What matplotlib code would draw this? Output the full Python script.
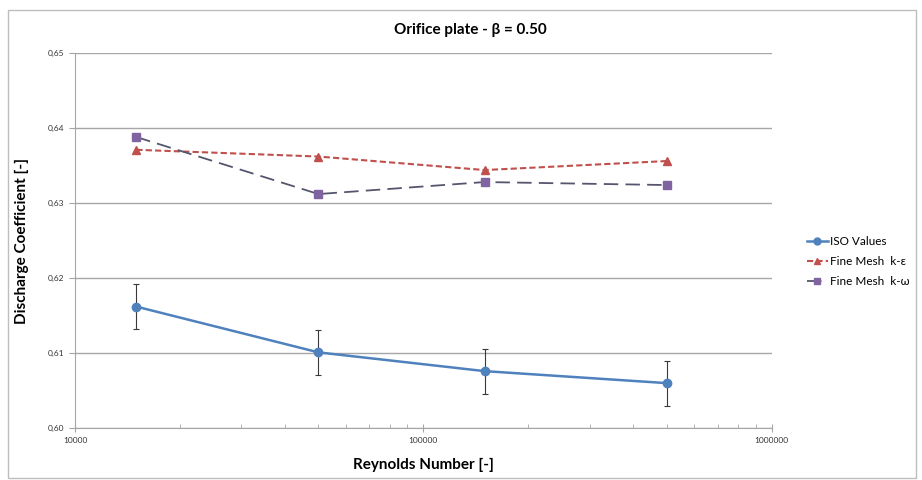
import matplotlib
matplotlib.use("Agg")
import matplotlib.pyplot as plt
from matplotlib.patches import Rectangle
from matplotlib.lines import Line2D
from matplotlib.ticker import FixedLocator, LogLocator, NullFormatter

plt.rcParams['font.family'] = ['Lato', 'DejaVu Sans']

# data
reynolds = [15000, 50000, 150000, 500000]
iso_values = [0.6162, 0.6101, 0.6076, 0.6060]
iso_err = [0.003, 0.003, 0.003, 0.003]
fine_k_eps = [0.6371, 0.6362, 0.6344, 0.6356]
fine_k_omega = [0.6388, 0.6312, 0.6328, 0.6324]
y_ticks = [0.60, 0.61, 0.62, 0.63, 0.64, 0.65]
y_tick_labels = ['0,60', '0,61', '0,62', '0,63', '0,64', '0,65']

fig = plt.figure(figsize=(9.22, 4.8), dpi=100)
ax = fig.add_axes([0.0813, 0.108, 0.7557, 0.7816])

# outer chart frame
fig.patches.append(Rectangle((0.009, 0.004), 0.984, 0.975, transform=fig.transFigure,
                             fill=False, edgecolor='#bdbdbd', linewidth=1.0))

ax.errorbar(reynolds, iso_values, yerr=iso_err, color='#4F81BD', ecolor='#3a3a3a',
            elinewidth=0.8, capsize=2, capthick=0.8, marker='o', markersize=6,
            linewidth=1.8, zorder=3)
ax.plot(reynolds, fine_k_eps, color='#C0504D', linestyle=(0, (3, 1.5)), linewidth=1.5,
        marker='^', markersize=6, zorder=3)
ax.plot(reynolds, fine_k_omega, color='#55566e', linestyle=(0, (8, 4)), linewidth=1.3,
        marker='s', markersize=6, markerfacecolor='#8064A2', markeredgecolor='#8064A2',
        zorder=3)

ax.set_xscale('log')
ax.set_xlim(10000, 1000000)
ax.set_ylim(0.60, 0.65)
ax.set_yticks(y_ticks)
ax.set_yticklabels(y_tick_labels)
ax.xaxis.set_major_locator(FixedLocator([10000, 100000, 1000000]))
ax.set_xticklabels(['10000', '100000', '1000000'])
ax.xaxis.set_minor_locator(LogLocator(base=10, subs=range(2, 10)))
ax.xaxis.set_minor_formatter(NullFormatter())

ax.grid(axis='y', color='#a6a6a6', linewidth=1.0)
ax.set_axisbelow(True)
for side in ['top', 'right']:
    ax.spines[side].set_visible(False)
for side in ['left', 'bottom']:
    ax.spines[side].set_color('#a6a6a6')
ax.tick_params(axis='both', which='major', labelsize=6, color='#a6a6a6', length=4,
               labelcolor='#333333')
ax.tick_params(axis='x', which='minor', color='#a6a6a6', length=3, direction='in')
ax.tick_params(axis='x', which='major', direction='inout', length=6)

ax.set_xlabel('Reynolds Number [-]', fontsize=11, fontweight='bold', labelpad=10)
ax.set_ylabel('Discharge Coefficient [-]', fontsize=11, fontweight='bold', labelpad=14)
fig.text(0.51, 0.937, 'Orifice plate - β = 0.50', ha='center', va='center',
         fontsize=11, fontweight='bold')

# legend entries without error bars
handles = [
    Line2D([], [], color='#4F81BD', linewidth=1.8, marker='o', markersize=5),
    Line2D([], [], color='#C0504D', linestyle=(0, (3, 1.5)), linewidth=1.5,
           marker='^', markersize=5),
    Line2D([], [], color='#55566e', linestyle=(0, (8, 4)), linewidth=1.3, marker='s',
           markersize=5, markerfacecolor='#8064A2', markeredgecolor='#8064A2'),
]
labels = ['ISO Values', 'Fine Mesh  k-ε', 'Fine Mesh  k-ω']
fig.legend(handles, labels, loc='center left', bbox_to_anchor=(0.866, 0.455),
           frameon=False, fontsize=8.5, handlelength=1.8, handletextpad=0.2,
           labelspacing=0.75, borderpad=0.2)

fig.savefig('out.png', dpi=100)
